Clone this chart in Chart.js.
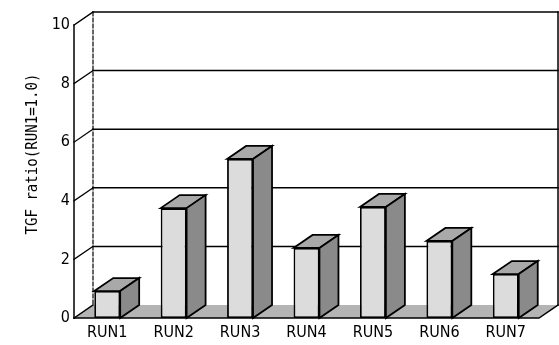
<!DOCTYPE html>
<html>
<head>
<meta charset="utf-8">
<script src="https://cdn.jsdelivr.net/npm/chart.js@4.4.1/dist/chart.umd.min.js"></script>
<style>
  html, body { margin: 0; padding: 0; background: #ffffff; }
  #wrap { width: 559px; height: 345px; }
</style>
</head>
<body>
<div id="wrap"><canvas id="c" width="559" height="345"></canvas></div>
<script>
// Categories and values
const runs = ['RUN1', 'RUN2', 'RUN3', 'RUN4', 'RUN5', 'RUN6', 'RUN7'];
const tgfRatio = [0.92, 3.75, 5.43, 2.39, 3.79, 2.63, 1.5];
const yTicks = [0, 2, 4, 6, 8, 10];
const yTitle = 'TGF ratio(RUN1=1.0)';

// depth of the pseudo-3D box
const DX = 19, DY = -13;

const box3d = {
  id: 'box3d',
  beforeDatasetsDraw(chart) {
    const ctx = chart.ctx;
    const a = chart.chartArea;
    const ys = chart.scales.y;
    const y0 = ys.getPixelForValue(0);
    const yTop = ys.getPixelForValue(10);
    ctx.save();
    ctx.strokeStyle = '#000';
    ctx.lineCap = 'square';

    // back wall gridlines
    ctx.lineWidth = 1.5;
    yTicks.forEach(v => {
      if (v === 0) return;
      const y = ys.getPixelForValue(v);
      ctx.beginPath();
      ctx.moveTo(a.left + DX, y + DY);
      ctx.lineTo(a.right + DX, y + DY);
      ctx.stroke();
    });
    // back wall verticals
    ctx.beginPath();
    ctx.moveTo(a.right + DX, yTop + DY);
    ctx.lineTo(a.right + DX, y0 + DY);
    ctx.stroke();
    ctx.setLineDash([4, 2]);
    ctx.lineWidth = 1.2;
    ctx.beginPath();
    ctx.moveTo(a.left + DX, yTop + DY);
    ctx.lineTo(a.left + DX, y0 + DY);
    ctx.stroke();
    ctx.setLineDash([]);

    // floor
    ctx.fillStyle = '#b4b4b4';
    ctx.lineWidth = 1.5;
    ctx.beginPath();
    ctx.moveTo(a.left, y0);
    ctx.lineTo(a.left + DX, y0 + DY);
    ctx.lineTo(a.right + DX, y0 + DY);
    ctx.lineTo(a.right, y0);
    ctx.closePath();
    ctx.fill();
    ctx.beginPath();
    ctx.moveTo(a.left, y0);
    ctx.lineTo(a.right, y0);
    ctx.lineTo(a.right + DX, y0 + DY);
    ctx.stroke();

    // side wall tick connectors and front axis
    ctx.lineWidth = 1.3;
    yTicks.forEach(v => {
      const y = ys.getPixelForValue(v);
      ctx.beginPath();
      ctx.moveTo(a.left, y);
      ctx.lineTo(a.left + DX, y + DY);
      ctx.stroke();
    });
    ctx.lineWidth = 1.5;
    ctx.beginPath();
    ctx.moveTo(a.left, yTop);
    ctx.lineTo(a.left, y0);
    ctx.stroke();

    // y axis title
    ctx.fillStyle = '#000';
    ctx.font = '16px "DejaVu Sans Mono", monospace';
    ctx.textAlign = 'center';
    ctx.textBaseline = 'middle';
    ctx.translate(33, 154);
    ctx.rotate(-Math.PI / 2);
    ctx.scale(0.88, 1);
    ctx.fillText(yTitle, 0, 0);
    ctx.restore();
  },
  afterDatasetsDraw(chart) {
    const ctx = chart.ctx;
    const meta = chart.getDatasetMeta(0);
    ctx.save();
    ctx.strokeStyle = '#000';
    ctx.lineWidth = 1.8;
    ctx.lineJoin = 'miter';
    meta.data.forEach(bar => {
      const p = bar.getProps(['x', 'y', 'base', 'width'], true);
      const l = p.x - p.width / 2, r = p.x + p.width / 2;
      // top face
      ctx.fillStyle = '#a9a9a9';
      ctx.beginPath();
      ctx.moveTo(l, p.y);
      ctx.lineTo(l + DX, p.y + DY);
      ctx.lineTo(r + DX, p.y + DY);
      ctx.lineTo(r, p.y);
      ctx.closePath();
      ctx.fill();
      ctx.stroke();
      // side face
      ctx.fillStyle = '#8a8a8a';
      ctx.beginPath();
      ctx.moveTo(r, p.y);
      ctx.lineTo(r + DX, p.y + DY);
      ctx.lineTo(r + DX, p.base + DY);
      ctx.lineTo(r, p.base);
      ctx.closePath();
      ctx.fill();
      ctx.stroke();
    });
    ctx.restore();
  }
};

new Chart(document.getElementById('c'), {
  type: 'bar',
  data: {
    labels: runs,
    datasets: [{
      data: tgfRatio,
      backgroundColor: '#dcdcdc',
      borderColor: '#000',
      borderWidth: 1.8,
      borderSkipped: false,
      barPercentage: 0.39,
      categoryPercentage: 1.0
    }]
  },
  options: {
    responsive: false,
    animation: false,
    events: [],
    layout: { padding: { left: 0, right: 20, top: 25, bottom: 0 } },
    plugins: { legend: { display: false }, tooltip: { enabled: false } },
    scales: {
      x: {
        grid: { display: false, drawTicks: false },
        border: { display: false },
        ticks: {
          color: '#000',
          font: { family: '"Liberation Sans Narrow", "DejaVu Sans Condensed", sans-serif', size: 16 },
          padding: 5,
          maxRotation: 0
        },
        afterFit(s) { s.height = 27; }
      },
      y: {
        min: 0,
        max: 10,
        afterBuildTicks(s) { s.ticks = yTicks.map(v => ({ value: v })); },
        grid: { display: false, drawTicks: false },
        border: { display: false },
        ticks: {
          color: '#000',
          font: { family: '"Liberation Sans Narrow", "DejaVu Sans Condensed", sans-serif', size: 16 },
          padding: 4
        },
        afterFit(s) { s.width = 74; }
      }
    }
  },
  plugins: [box3d]
});
</script>
</body>
</html>
